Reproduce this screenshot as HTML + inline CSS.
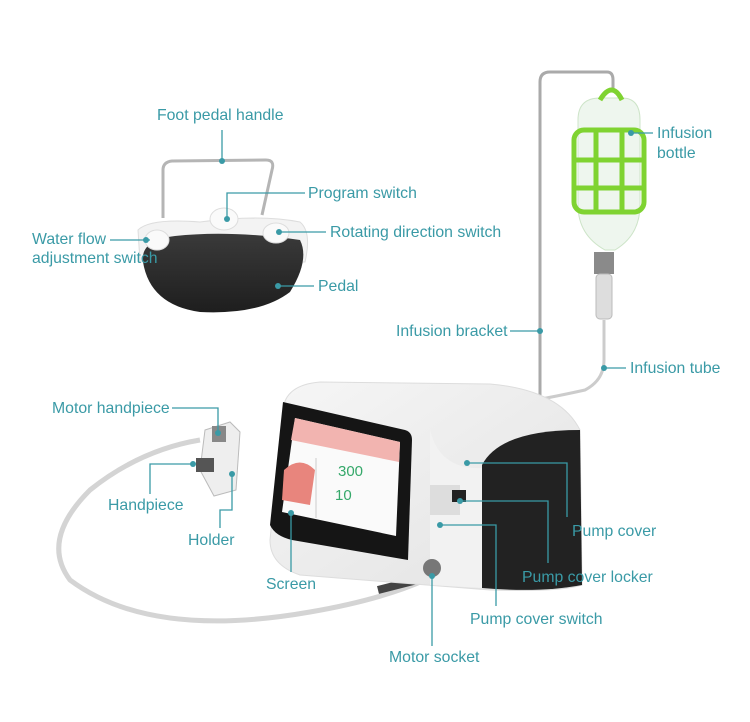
<!DOCTYPE html>
<html><head><meta charset="utf-8"><style>
html,body{margin:0;padding:0;background:#fff;}
svg{display:block}
text{font-family:"Liberation Sans",sans-serif;font-size:15.8px;fill:#3a9aa6}
</style></head><body>
<svg width="750" height="722" viewBox="0 0 750 722" xmlns="http://www.w3.org/2000/svg">
<defs>
<linearGradient id="pd" x1="0" y1="0" x2="0" y2="1"><stop offset="0" stop-color="#3a3a3a"/><stop offset="1" stop-color="#1e1e1e"/></linearGradient>
<linearGradient id="bx" x1="0" y1="0" x2="1" y2="1"><stop offset="0" stop-color="#f6f6f6"/><stop offset="1" stop-color="#e2e2e2"/></linearGradient>
</defs>
<path d="M163 218 L163 170 Q163 162 172 161 L266 160 Q275 160 272 170 L262 215" fill="none" stroke="#b5b5b5" stroke-width="3"/>
<path d="M138 230 Q150 218 200 222 Q260 214 300 222 Q312 232 305 262 L140 262 Z" fill="#f3f3f3" stroke="#ddd"/>
<path d="M143 262 Q140 240 175 236 Q230 230 300 240 Q310 260 290 292 Q260 315 200 312 Q150 305 143 262 Z" fill="url(#pd)"/>
<ellipse cx="157" cy="240" rx="12" ry="10" fill="#fafafa" stroke="#ddd"/>
<ellipse cx="224" cy="219" rx="14" ry="11" fill="#fafafa" stroke="#ddd"/>
<ellipse cx="276" cy="233" rx="13" ry="10" fill="#fafafa" stroke="#ddd"/>
<path d="M540 425 L540 82 Q540 72 550 72 L607 72 Q613 72 613 80 L613 92" fill="none" stroke="#aaa" stroke-width="3"/>
<path d="M578 120 Q578 98 600 98 L622 98 Q640 98 640 120 L640 205 Q640 235 615 250 L605 250 Q578 235 578 205 Z" fill="#eef6ee" stroke="#cde4c8"/>
<g fill="none" stroke="#7fd331" stroke-width="5">
<path d="M600 100 Q612 80 622 100"/>
<rect x="574" y="130" width="70" height="82" rx="10"/>
<line x1="574" y1="160" x2="644" y2="160"/>
<line x1="574" y1="188" x2="644" y2="188"/>
<line x1="596" y1="130" x2="596" y2="212"/>
<line x1="622" y1="130" x2="622" y2="212"/>
</g>
<rect x="594" y="252" width="20" height="22" fill="#8a8a8a"/>
<rect x="596" y="274" width="16" height="45" rx="4" fill="#ddd" stroke="#bbb"/>
<path d="M604 320 L604 360 Q604 380 585 390 Q540 400 505 405 Q496 410 498 425" fill="none" stroke="#ccc" stroke-width="3"/>
<path d="M425 580 Q380 600 310 612 Q150 640 70 580 Q40 540 90 490 Q140 450 200 440" fill="none" stroke="#d4d4d4" stroke-width="5"/>
<path d="M425 578 L378 590" stroke="#444" stroke-width="8"/>
<path d="M205 430 L230 422 L240 432 L236 490 L214 496 L200 470 Z" fill="#eee" stroke="#bbb"/>
<rect x="212" y="426" width="14" height="16" fill="#888"/>
<rect x="196" y="458" width="18" height="14" fill="#555"/>
<path d="M283 410 Q285 385 320 382 L490 384 Q560 390 580 430 L582 585 Q560 592 490 590 L300 575 Q270 565 270 540 Z" fill="url(#bx)" stroke="#ddd"/>
<path d="M482 465 Q500 430 580 430 L582 585 Q540 593 482 588 Z" fill="#222"/>
<path d="M430 430 Q440 470 482 468 L482 588 L430 585 Z" fill="#f2f2f2"/>
<path d="M283 402 L405 430 Q412 432 412 440 L408 560 L292 540 Q275 536 270 525 Z" fill="#151515"/>
<path d="M295 418 L400 442 L396 536 L282 512 Z" fill="#fafafa"/>
<path d="M295 418 L400 442 L399 462 L291 440 Z" fill="#f2b4b0"/>
<path d="M284 470 Q300 455 315 470 L310 505 L282 500 Z" fill="#e8857d"/>
<text x="338" y="476" style="font-size:15px;fill:#35a86a">300</text>
<text x="335" y="500" style="font-size:15px;fill:#35a86a">10</text>
<line x1="316" y1="458" x2="316" y2="518" stroke="#ccc"/>
<rect x="430" y="485" width="30" height="30" fill="#ddd"/>
<rect x="452" y="490" width="14" height="12" fill="#222"/>
<circle cx="432" cy="568" r="9" fill="#777"/>
<g stroke="#3a9aa6" stroke-width="1.3" fill="none">
<path d="M222 130 L222 160"/>
<path d="M305 193 L227 193 L227 218"/>
<path d="M110 240 L150 240"/>
<path d="M280 232 L326 232"/>
<path d="M278 286 L314 286"/>
<path d="M631 133 L653 133"/>
<path d="M510 331 L540 331"/>
<path d="M604 368 L626 368"/>
<path d="M172 408 L218 408 L218 432"/>
<path d="M193 464 L150 464 L150 494"/>
<path d="M232 474 L232 510 L220 510 L220 528"/>
<path d="M291 513 L291 572"/>
<path d="M467 463 L567 463 L567 517"/>
<path d="M460 501 L548 501 L548 563"/>
<path d="M440 525 L496 525 L496 606"/>
<path d="M432 576 L432 646"/>
</g>
<g fill="#3a9aa6">
<circle cx="222" cy="161" r="3"/><circle cx="227" cy="219" r="3"/><circle cx="146" cy="240" r="3"/><circle cx="279" cy="232" r="3"/><circle cx="278" cy="286" r="3"/><circle cx="631" cy="133" r="3"/><circle cx="540" cy="331" r="3"/><circle cx="604" cy="368" r="3"/><circle cx="218" cy="433" r="3"/><circle cx="193" cy="464" r="3"/><circle cx="232" cy="474" r="3"/><circle cx="291" cy="513" r="3"/><circle cx="467" cy="463" r="3"/><circle cx="460" cy="501" r="3"/><circle cx="440" cy="525" r="3"/><circle cx="432" cy="576" r="3"/>
</g>
<text x="157" y="120">Foot pedal handle</text>
<text x="308" y="198">Program switch</text>
<text x="32" y="244">Water flow</text>
<text x="32" y="263">adjustment switch</text>
<text x="330" y="237">Rotating direction switch</text>
<text x="318" y="291">Pedal</text>
<text x="657" y="138">Infusion</text>
<text x="657" y="158">bottle</text>
<text x="396" y="336">Infusion bracket</text>
<text x="630" y="373">Infusion tube</text>
<text x="52" y="413">Motor handpiece</text>
<text x="108" y="510">Handpiece</text>
<text x="188" y="545">Holder</text>
<text x="266" y="589">Screen</text>
<text x="572" y="536">Pump cover</text>
<text x="522" y="582">Pump cover locker</text>
<text x="470" y="624">Pump cover switch</text>
<text x="389" y="662">Motor socket</text>
</svg>
</body></html>
